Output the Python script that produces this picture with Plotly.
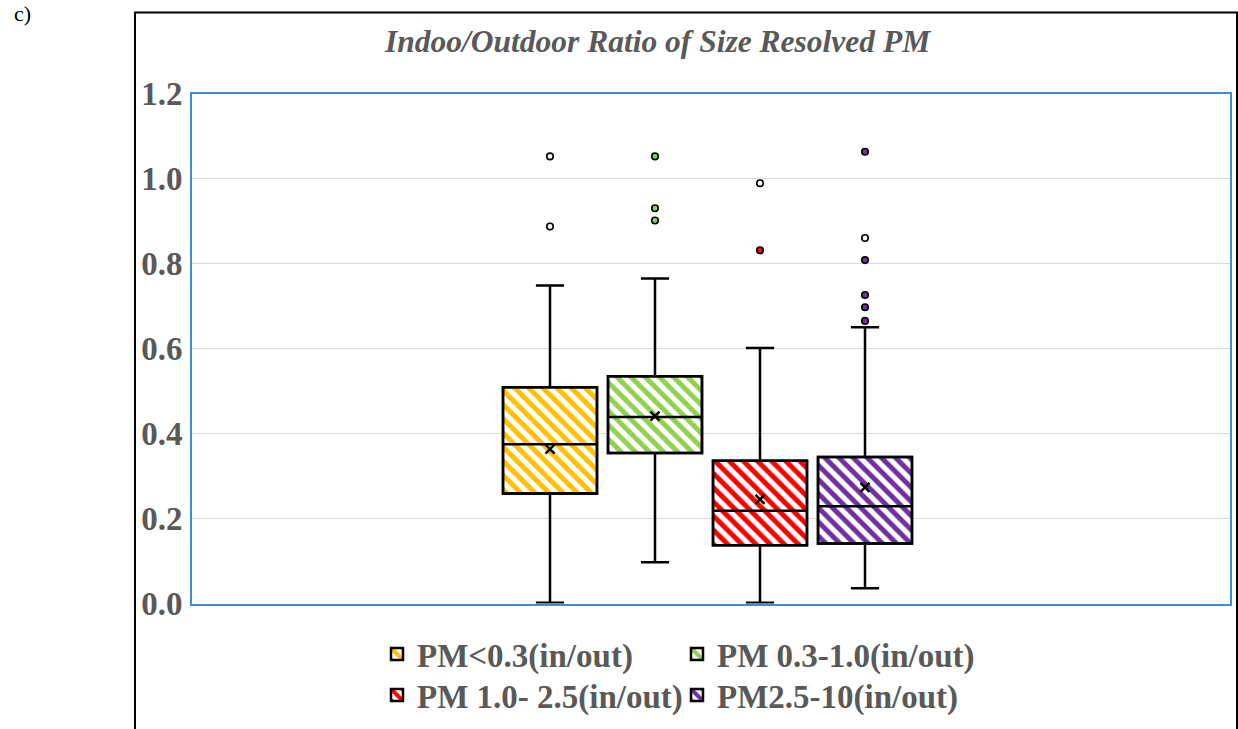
import plotly.graph_objects as go

# Series names and colours
series = ["PM<0.3(in/out)", "PM 0.3-1.0(in/out)", "PM 1.0- 2.5(in/out)", "PM2.5-10(in/out)"]
colors = ["#FFC000", "#92D050", "#FF0000", "#7030A0"]
positions = [1, 2, 3, 4]
legend_ids = ["legend", "legend", "legend2", "legend2"]

# Five-number summaries and means of the I/O ratios
lower_whisker = [0.002, 0.097, 0.002, 0.036]
q1 = [0.259, 0.354, 0.137, 0.141]
median = [0.375, 0.439, 0.218, 0.229]
q3 = [0.509, 0.535, 0.336, 0.345]
upper_whisker = [0.748, 0.765, 0.601, 0.650]
means = [0.363, 0.441, 0.245, 0.273]

# Outliers per series
outliers = [
    [1.052, 0.887],
    [1.052, 0.930, 0.901],
    [0.989, 0.831],
    [1.063, 0.860, 0.808, 0.726, 0.697, 0.665],
]
outlier_fill = [
    ["white", "white"],
    ["#92D050", "#92D050", "#92D050"],
    ["white", "#FF0000"],
    ["#7030A0", "white", "#7030A0", "#7030A0", "#7030A0", "#7030A0"],
]

yticks = [0.0, 0.2, 0.4, 0.6, 0.8, 1.0, 1.2]

W, H = 1238, 729
box_w = 0.895
font_serif = "Liberation Serif"
grey = "#595959"

fig = go.Figure()

# Hatched interquartile fills (also provide the legend swatches)
for i, name in enumerate(series):
    fig.add_trace(go.Bar(
        x=[positions[i]], y=[q3[i] - q1[i]], base=[q1[i]], width=box_w,
        name=name, legend=legend_ids[i],
        marker=dict(color="white",
                    pattern=dict(shape="\\", fgcolor=colors[i], bgcolor="white",
                                 fgopacity=1, size=10, solidity=0.5, fillmode="replace"),
                    line=dict(color="black", width=2.5)),
        showlegend=True, hoverinfo="skip",
    ))

# Box outlines, medians and whiskers
for i, name in enumerate(series):
    fig.add_trace(go.Box(
        x=[positions[i]], q1=[q1[i]], median=[median[i]], q3=[q3[i]],
        lowerfence=[lower_whisker[i]], upperfence=[upper_whisker[i]],
        width=box_w, whiskerwidth=0.3,
        fillcolor="rgba(0,0,0,0)", line=dict(color="black", width=2.5),
        boxpoints=False, showlegend=False, name=name,
    ))

# Means
fig.add_trace(go.Scatter(
    x=positions, y=means, mode="markers", showlegend=False,
    marker=dict(symbol="x-thin", size=9, line=dict(color="black", width=2.5)),
))

# Outliers
for i in range(len(series)):
    fig.add_trace(go.Scatter(
        x=[positions[i]] * len(outliers[i]), y=outliers[i], mode="markers",
        showlegend=False,
        marker=dict(symbol="circle", size=6.5, color=outlier_fill[i],
                    line=dict(color="black", width=1.6)),
    ))

x_left, x_right = 192, 1229.5
y_top, y_bottom = 93.5, 603.5
unit = 105.0
x0 = positions[0] - (550 - x_left) / unit
x1 = x0 + (x_right - x_left) / unit

legend_style = dict(orientation="h", xanchor="left", yanchor="middle",
                    entrywidth=255, entrywidthmode="pixels", traceorder="normal",
                    font=dict(family=font_serif, size=33, color=grey, weight="bold"),
                    itemwidth=30, bgcolor="rgba(0,0,0,0)", borderwidth=0)

fig.update_layout(
    width=W, height=H,
    margin=dict(l=0, r=0, t=0, b=0, autoexpand=False),
    paper_bgcolor="white", plot_bgcolor="white",
    barmode="overlay", boxmode="overlay",
    xaxis=dict(domain=[x_left / W, x_right / W], range=[x0, x1],
               showticklabels=False, showgrid=False, zeroline=False,
               showline=True, mirror=True, linecolor="#3D8DD6", linewidth=1.6,
               ticks=""),
    yaxis=dict(domain=[1 - y_bottom / H, 1 - y_top / H], range=[0, 1.2],
               tickvals=yticks, tickformat=".1f",
               showgrid=True, gridcolor="#D9D9D9", gridwidth=1, zeroline=False,
               showline=True, mirror=True, linecolor="#3D8DD6", linewidth=1.6,
               ticks="", ticklabelstandoff=1,
               tickfont=dict(family=font_serif, size=33, color=grey, weight="bold")),
    legend=dict(x=377 / W, y=1 - 654 / H, **legend_style),
    legend2=dict(x=377 / W, y=1 - 695 / H, **legend_style),
    showlegend=True,
)

# Title
fig.add_annotation(
    x=657 / W, y=1 - 42 / H, xref="paper", yref="paper",
    text="<b><i>Indoo/Outdoor Ratio of Size Resolved PM</i></b>",
    showarrow=False, xanchor="center", yanchor="middle",
    font=dict(family=font_serif, size=31.5, color=grey),
)

# Panel label
fig.add_annotation(
    x=12 / W, y=1 - 14 / H, xref="paper", yref="paper", text="c)",
    showarrow=False, xanchor="left", yanchor="middle",
    font=dict(family=font_serif, size=22, color="black"),
)

# Outer chart frame
fig.add_shape(type="rect", xref="paper", yref="paper",
              x0=135 / W, x1=1237 / W, y0=-0.05, y1=1 - 12.5 / H,
              line=dict(color="black", width=2), fillcolor="rgba(0,0,0,0)", layer="below")

fig.write_html("out.html")
